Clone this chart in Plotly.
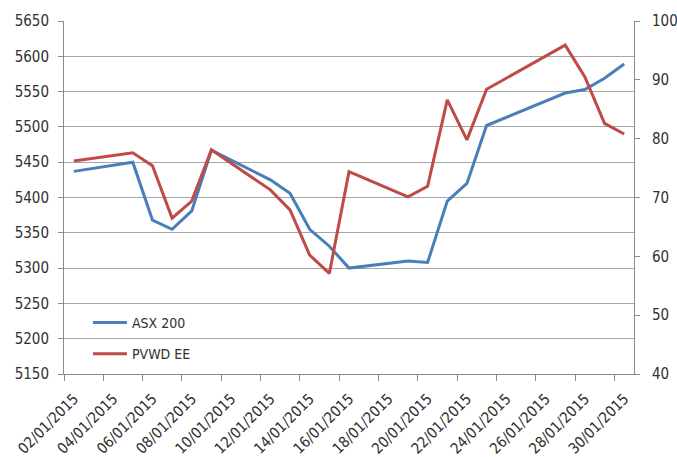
import plotly.graph_objects as go

dates = ["2015-01-02", "2015-01-05", "2015-01-06", "2015-01-07", "2015-01-08",
         "2015-01-09", "2015-01-12", "2015-01-13", "2015-01-14", "2015-01-15",
         "2015-01-16", "2015-01-19", "2015-01-20", "2015-01-21", "2015-01-22",
         "2015-01-23", "2015-01-27", "2015-01-28", "2015-01-29", "2015-01-30"]
asx200 = [5437, 5450, 5368, 5355, 5381, 5467, 5425, 5406, 5355, 5331,
          5300, 5310, 5308, 5395, 5420, 5502, 5548, 5553, 5569, 5589]
pvwd = [76.2, 77.6, 75.4, 66.5, 69.4, 78.1, 71.3, 67.9, 60.2, 57.1,
        74.4, 70.1, 71.9, 86.6, 79.8, 88.4, 95.9, 90.5, 82.6, 80.8]

tick_boundaries = ["2015-01-%02d 12:00" % d for d in range(1, 30, 2)]
tick_labels = ["%02d/01/2015" % d for d in range(2, 31, 2)]

FONT = "DejaVu Sans Condensed, DejaVu Sans, sans-serif"
GRID = "#a6a6a6"
AXIS = "#8c8c8c"
TXT = "#303030"

fig = go.Figure()
fig.add_trace(go.Scatter(x=dates, y=asx200, mode="lines", name="ASX 200",
                         line=dict(color="#4a7ebb", width=3),
                         legendgroup="a", yaxis="y"))
fig.add_trace(go.Scatter(x=dates, y=pvwd, mode="lines", name="PVWD EE",
                         line=dict(color="#be4b48", width=3),
                         legendgroup="b", yaxis="y2"))

fig.update_layout(
    width=677, height=457,
    margin=dict(l=64, r=43, t=21, b=83),
    paper_bgcolor="white", plot_bgcolor="white",
    font=dict(family=FONT, size=15, color=TXT),
    showlegend=True,
    legend=dict(x=0.042, y=0.19, xanchor="left", yanchor="top",
                bgcolor="rgba(0,0,0,0)", traceorder="grouped",
                itemwidth=34,
                tracegroupgap=10, font=dict(size=14, color=TXT)),
    xaxis=dict(type="date", automargin=False,
               range=["2015-01-01 12:00", "2015-01-30 12:00"],
               tickmode="array", tickvals=tick_boundaries, ticktext=tick_labels,
               tickangle=-45, ticklabelshift=10, ticklabelstandoff=3,
               ticks="outside", ticklen=6, tickcolor=AXIS,
               showline=True, linecolor=AXIS, linewidth=1,
               showgrid=False, zeroline=False),
    yaxis=dict(range=[5150, 5650], dtick=50, tick0=5150, automargin=False,
               ticks="outside", ticklen=5, tickcolor=AXIS,
               showline=True, linecolor=AXIS, linewidth=1,
               showgrid=True, gridcolor=GRID, gridwidth=1,
               zeroline=False, ticklabelstandoff=6),
    yaxis2=dict(range=[40, 100], dtick=10, tick0=40, overlaying="y", side="right",
                automargin=False,
                ticks="outside", ticklen=5, tickcolor=AXIS,
                showline=True, linecolor=AXIS, linewidth=1,
                showgrid=False, zeroline=False, ticklabelstandoff=9),
)

fig.write_html("out.html")
